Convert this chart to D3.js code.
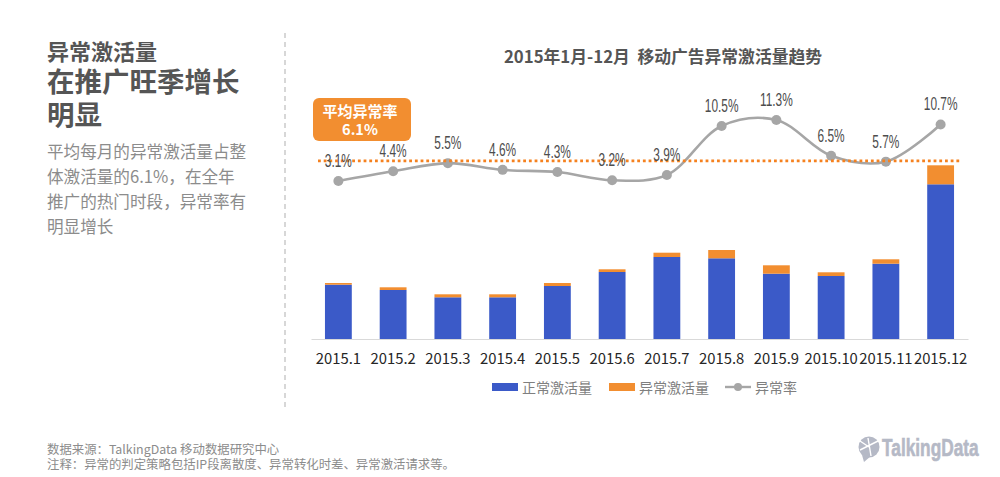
<!DOCTYPE html>
<html>
<head>
<meta charset="utf-8">
<script src="https://cdn.jsdelivr.net/npm/d3@7"></script>
<style>
  html, body { margin: 0; padding: 0; background: #fff; overflow: hidden; }
  text { font-family: "Noto Sans CJK SC", "Noto Sans", sans-serif; }
</style>
</head>
<body>
<div id="chart"></div>
<script>
// ========== DATA ==========
const months = ["2015.1", "2015.2", "2015.3", "2015.4", "2015.5", "2015.6",
  "2015.7", "2015.8", "2015.9", "2015.10", "2015.11", "2015.12"];
// bar values have no printed scale, read as relative heights
const normalValues = [54.3, 49, 41.7, 41.7, 53, 67, 82, 80.7, 65.3, 63, 75.3, 154.7];
const abnormalValues = [1.7, 2.7, 3, 3, 3, 2.7, 4.3, 8.3, 8.4, 3.7, 4.4, 19];
const rates = [3.1, 4.4, 5.5, 4.6, 4.3, 3.2, 3.9, 10.5, 11.3, 6.5, 5.7, 10.7];
const avgRateLabel = "6.1%";
const avgLineLevel = 5.8; // where the dotted line actually sits in the picture

const headLines = ["异常激活量", "在推广旺季增长", "明显"];
const bodyLines = ["平均每月的异常激活量占整", "体激活量的6.1%，在全年", "推广的热门时段，异常率有", "明显增长"];
const footLines = ["数据来源：TalkingData 移动数据研究中心", "注释：异常的判定策略包括IP段离散度、异常转化时差、异常激活请求等。"];

// ========== SETUP ==========
const width = 1000, height = 477;
const blue = "#3b5ac8", orange = "#f28e30", gray = "#a6a6a6";

const svg = d3.select("#chart").append("svg")
  .attr("width", width)
  .attr("height", height)
  .attr("viewBox", `0 0 ${width} ${height}`)
  .style("display", "block");

const x = d3.scaleBand().domain(months).range([311, 968]).paddingInner(0.51).paddingOuter(0.255);
const yBar = d3.scaleLinear().domain([0, 180]).range([339, 159]);
const yRate = d3.scaleLinear().domain([3.1, 11.3]).range([181, 120]);
const cx = d => x(d) + x.bandwidth() / 2;

// ========== LEFT PANEL ==========
function drawLeftPanel() {
  const head = [[22, 60], [27.5, 92], [27.5, 125]];
  headLines.forEach((t, i) => {
    svg.append("text")
      .attr("x", 47).attr("y", head[i][1])
      .style("font-size", head[i][0] + "px")
      .style("font-weight", 700)
      .style("fill", "#555")
      .text(t);
  });
  const bodyY = [158, 183, 208, 233];
  bodyLines.forEach((t, i) => {
    svg.append("text")
      .attr("x", 47).attr("y", bodyY[i])
      .style("font-size", "16.6px")
      .style("fill", "#8c8c8c")
      .text(t);
  });
  svg.append("line")
    .attr("x1", 285).attr("x2", 285)
    .attr("y1", 33).attr("y2", 411)
    .style("stroke", "#bdbdbd")
    .style("stroke-width", 1.2)
    .style("stroke-dasharray", "5 4");
}

// ========== BARS AND AXIS ==========
function drawBars() {
  const g = svg.append("g");
  g.selectAll(".normal").data(months).join("rect")
    .attr("class", "normal")
    .attr("x", d => x(d))
    .attr("width", x.bandwidth())
    .attr("y", (d, i) => yBar(normalValues[i]))
    .attr("height", (d, i) => yBar(0) - yBar(normalValues[i]))
    .style("fill", blue);
  g.selectAll(".abnormal").data(months).join("rect")
    .attr("class", "abnormal")
    .attr("x", d => x(d))
    .attr("width", x.bandwidth())
    .attr("y", (d, i) => yBar(normalValues[i] + abnormalValues[i]))
    .attr("height", (d, i) => yBar(normalValues[i]) - yBar(normalValues[i] + abnormalValues[i]))
    .style("fill", orange);

  const axis = svg.append("g")
    .attr("transform", `translate(0,${yBar(0)})`)
    .call(d3.axisBottom(x).tickSize(0).tickPadding(14));
  axis.select(".domain").style("stroke", "#d9d9d9").style("stroke-width", 1.2);
  axis.selectAll("text")
    .style("font-family", '"Noto Sans CJK SC", sans-serif')
    .style("font-size", "14.8px")
    .style("fill", "#262626");
}

// ========== RATE LINE ==========
function drawRateLine() {
  const line = d3.line()
    .x(d => cx(d))
    .y((d, i) => yRate(rates[i]))
    .curve(d3.curveCatmullRom.alpha(0.5));

  svg.append("path").datum(months)
    .attr("d", line)
    .style("fill", "none")
    .style("stroke", gray)
    .style("stroke-width", 2.6);

  svg.selectAll(".dot").data(months).join("circle")
    .attr("class", "dot")
    .attr("cx", d => cx(d))
    .attr("cy", (d, i) => yRate(rates[i]))
    .attr("r", 5)
    .style("fill", gray);

  svg.append("line")
    .attr("x1", 318).attr("x2", 962)
    .attr("y1", yRate(avgLineLevel)).attr("y2", yRate(avgLineLevel))
    .style("stroke", "#f5811f")
    .style("stroke-width", 2.6)
    .style("stroke-dasharray", "2.8 2.9");

  // narrow look of the labels comes from squeezing the text sideways
  svg.selectAll(".rate-label").data(months).join("text")
    .attr("class", "rate-label")
    .attr("transform", (d, i) => `translate(${cx(d)},${yRate(rates[i]) - 14}) scale(0.66,1)`)
    .attr("text-anchor", "middle")
    .style("font-family", '"Liberation Sans", sans-serif')
    .style("font-size", "18px")
    .style("fill", "#4d4d4d")
    .text((d, i) => rates[i].toFixed(1) + "%");
}

// ========== BADGE, TITLE, LEGEND ==========
function drawBadge() {
  svg.append("rect")
    .attr("x", 313).attr("y", 98)
    .attr("width", 98).attr("height", 43)
    .attr("rx", 6)
    .style("fill", orange);
  svg.append("text")
    .attr("x", 360).attr("y", 117)
    .attr("text-anchor", "middle")
    .style("font-size", "15px").style("font-weight", 700).style("fill", "#fff")
    .text("平均异常率");
  svg.append("text")
    .attr("x", 360).attr("y", 135)
    .attr("text-anchor", "middle")
    .style("font-size", "14.5px").style("font-weight", 700).style("fill", "#fff")
    .text(avgRateLabel);
}

function drawTitle() {
  svg.append("text")
    .attr("x", 663).attr("y", 63)
    .attr("text-anchor", "middle")
    .style("font-size", "16.8px").style("font-weight", 700).style("fill", "#555")
    .style("white-space", "pre")
    .text("2015年1月-12月  移动广告异常激活量趋势");
}

function drawLegend() {
  const legendText = (tx, t) => svg.append("text")
    .attr("x", tx).attr("y", 393)
    .style("font-size", "14px").style("fill", "#7f7f7f")
    .text(t);
  svg.append("rect").attr("x", 492).attr("y", 383).attr("width", 26).attr("height", 8).style("fill", blue);
  legendText(522, "正常激活量");
  svg.append("rect").attr("x", 609).attr("y", 383).attr("width", 26).attr("height", 8).style("fill", orange);
  legendText(639, "异常激活量");
  svg.append("line").attr("x1", 725).attr("x2", 751).attr("y1", 387).attr("y2", 387)
    .style("stroke", gray).style("stroke-width", 2.4);
  svg.append("circle").attr("cx", 738).attr("cy", 387).attr("r", 4).style("fill", gray);
  legendText(755, "异常率");
}

// ========== FOOTER ==========
function drawFooter() {
  footLines.forEach((t, i) => {
    svg.append("text")
      .attr("x", 47).attr("y", 454 + i * 15)
      .style("font-size", "12.4px").style("fill", "#8c8c8c")
      .text(t);
  });

  // TalkingData logo, rough
  const logo = svg.append("g").style("fill", "#b5b9c6");
  logo.append("circle").attr("cx", 869).attr("cy", 447).attr("r", 10.5);
  logo.append("path").attr("d", "M862 455 L864 462 L871 456 Z");
  logo.append("path").attr("d", "M860 450 L878 441 M868 438 L871 456 M860 441 L869 447")
    .style("stroke", "#fff").style("stroke-width", 1.4).style("fill", "none");
  logo.append("text")
    .attr("transform", "translate(882,456) scale(0.72,1)")
    .style("font-family", '"Liberation Sans", sans-serif')
    .style("font-size", "24px").style("font-weight", 700)
    .style("stroke", "#b5b9c6").style("stroke-width", 0.6)
    .text("TalkingData");
}

drawLeftPanel();
drawBars();
drawRateLine();
drawBadge();
drawTitle();
drawLegend();
drawFooter();
</script>
</body>
</html>
